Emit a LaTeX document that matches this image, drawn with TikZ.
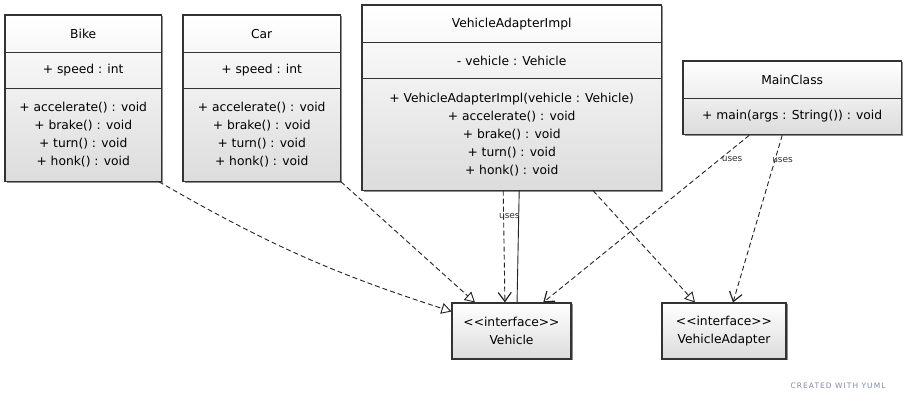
\documentclass[tikz,border=0pt]{standalone}
\usepackage{fontspec}
\setmainfont{DejaVu Sans}
\usepackage{tikz}
\usetikzlibrary{positioning,arrows.meta,fit,backgrounds,shadows}
\definecolor{cborder}{HTML}{333333}
\definecolor{cfill}{HTML}{DCDCDC}
\definecolor{cedge}{HTML}{222222}
\definecolor{ccredit}{HTML}{7F8BA0}

\begin{document}
\begin{tikzpicture}[x=1pt,y=-1pt,
      font=\fontsize{12.3}{18}\selectfont,
      cmp/.style={inner sep=0pt,align=center,minimum height=36pt},
      ttl/.style={cmp,minimum height=37pt},
      clsbox/.style={draw=cborder,line width=1.1pt,top color=white,bottom color=cfill,inner sep=0pt,
                     drop shadow={shadow xshift=1.5pt,shadow yshift=-1.5pt,fill=black!45,opacity=1}},
      div/.style={draw=cborder,line width=1.1pt},
      dep/.style={draw=cedge,line width=0.9pt,dash pattern=on 5pt off 3pt},
      real/.style={dep,-{Triangle[open,length=10pt,width=11pt,fill=white]}},
      uses/.style={dep,-{Straight Barb[length=9pt,width=13pt,line width=1.2pt]}},
      lbl/.style={font=\fontsize{9}{10}\selectfont,text=cborder,inner sep=1pt},
      credit/.style={font=\fontsize{7.5}{8}\selectfont\addfontfeature{LetterSpace=14},text=ccredit}]

    \useasboundingbox (0,0) rectangle (906,403);

    % classes
    \node[ttl,minimum width=156pt,anchor=north west] (bike) at (5,15) {Bike};
    \node[cmp,minimum width=156pt,below=0pt of bike] (bike-att) {+ speed : int};
    \node[cmp,minimum width=156pt,minimum height=92pt,below=0pt of bike-att] (bike-ops)
      {+ accelerate() : void\\+ brake() : void\\+ turn() : void\\+ honk() : void};

    \node[ttl,minimum width=157pt,anchor=north west] (car) at (183,15) {Car};
    \node[cmp,minimum width=157pt,below=0pt of car] (car-att) {+ speed : int};
    \node[cmp,minimum width=157pt,minimum height=92pt,below=0pt of car-att] (car-ops)
      {+ accelerate() : void\\+ brake() : void\\+ turn() : void\\+ honk() : void};

    \node[ttl,minimum width=299pt,anchor=north west] (vai) at (362,5) {VehicleAdapterImpl};
    \node[cmp,minimum width=299pt,below=0pt of vai] (vai-att) {- vehicle : Vehicle};
    \node[cmp,minimum width=299pt,minimum height=111pt,below=0pt of vai-att] (vai-ops)
      {+ VehicleAdapterImpl(vehicle : Vehicle)\\+ accelerate() : void\\+ brake() : void\\+ turn() : void\\+ honk() : void};

    \node[ttl,minimum width=218pt,anchor=north west] (main) at (683,61) {MainClass};
    \node[cmp,minimum width=218pt,below=0pt of main] (main-ops) {+ main(args : String()) : void};

    \begin{scope}[on background layer]
      \node[clsbox,fit=(bike)(bike-ops)] (bike-box) {};
      \node[clsbox,fit=(car)(car-ops)] (car-box) {};
      \node[clsbox,fit=(vai)(vai-ops)] (vai-box) {};
      \node[clsbox,fit=(main)(main-ops)] (main-box) {};
    \end{scope}

    \draw[div] (bike-att.north west) -- (bike-att.north east);
    \draw[div] (bike-ops.north west) -- (bike-ops.north east);
    \draw[div] (car-att.north west) -- (car-att.north east);
    \draw[div] (car-ops.north west) -- (car-ops.north east);
    \draw[div] (vai-att.north west) -- (vai-att.north east);
    \draw[div] (vai-ops.north west) -- (vai-ops.north east);
    \draw[div] (main-ops.north west) -- (main-ops.north east);

    % interfaces
    \node[clsbox,align=center,minimum width=119pt,minimum height=56pt] (vehicle) at (511.5,331)
      {<{}<interface>{}>\\Vehicle};
    \node[clsbox,align=center,minimum width=124pt,minimum height=56pt] (vadapter) at (724,331)
      {<{}<interface>{}>\\VehicleAdapter};

    % relations
    \draw[real] ([xshift=-3pt]bike-box.south east) to[bend right=6] (vehicle.162);
    \draw[real] (car-box.south east) -- (vehicle.142);
    \draw[uses] ([xshift=-8.5pt]vai-box.south) -- node[lbl,pos=0.23,anchor=west,xshift=-6pt] {uses} (vehicle.103);
    \draw[draw=cedge,line width=0.9pt] ([xshift=7.5pt]vai-box.south) -- (vehicle.79);
    \draw[real] ([xshift=81.5pt]vai-box.south) -- ([xshift=-29pt]vadapter.north);
    \draw[uses] ([xshift=-43pt]main-box.south) -- node[lbl,pos=0.14,anchor=west] {uses} (vehicle.42);
    \draw[uses] ([xshift=-10pt]main-box.south) -- node[lbl,pos=0.15,anchor=west,xshift=-4pt] {uses} ([xshift=9pt]vadapter.north);

    \node[credit,anchor=east] (yuml) at (889,386) {CREATED WITH YUML};
  \end{tikzpicture}
\end{document}
